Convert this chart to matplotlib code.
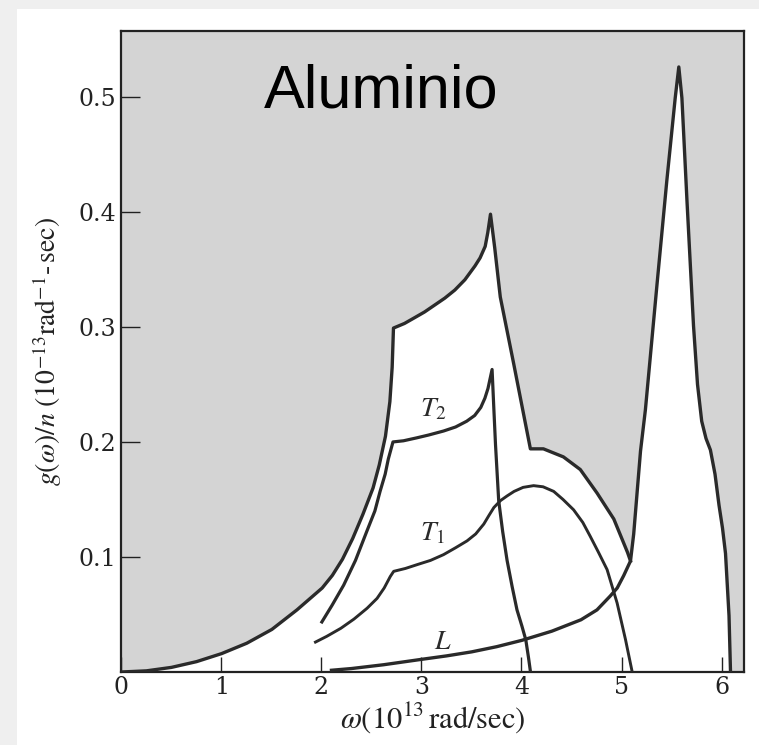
import numpy as np
import matplotlib
matplotlib.use("Agg")
import matplotlib.pyplot as plt
from matplotlib.patches import Rectangle

plt.rcParams['mathtext.fontset'] = 'stix'

# ---- data ----
omega_total = [0.0, 0.25, 0.5, 0.751, 1.002, 1.253, 1.504, 1.755, 2.007, 2.109, 2.21,
               2.312, 2.414, 2.516, 2.578, 2.64, 2.684, 2.707, 2.72, 2.83, 2.931, 3.031,
               3.132, 3.233, 3.333, 3.434, 3.535, 3.586, 3.637, 3.663, 3.69, 3.732,
               3.788, 3.922, 4.089, 4.219, 4.419, 4.588, 4.756, 4.923, 5.06, 5.09]
g_total = [0.0, 0.001, 0.004, 0.009, 0.016, 0.025, 0.037, 0.054, 0.073, 0.084, 0.098,
           0.116, 0.137, 0.160, 0.180, 0.205, 0.235, 0.265, 0.299, 0.303, 0.308, 0.313,
           0.319, 0.325, 0.332, 0.341, 0.353, 0.360, 0.370, 0.382, 0.398, 0.369,
           0.326, 0.268, 0.194, 0.194, 0.187, 0.176, 0.1555, 0.133, 0.104, 0.0965]

omega_T2 = [2.004, 2.106, 2.222, 2.34, 2.452, 2.534, 2.586, 2.637, 2.668, 2.715, 2.82,
            2.95, 3.071, 3.221, 3.341, 3.452, 3.532, 3.593, 3.634, 3.665, 3.706, 3.723,
            3.74, 3.772, 3.812, 3.856, 3.907, 3.955, 4.004, 4.043, 4.071, 4.09]
g_T2 = [0.0435, 0.058, 0.0755, 0.097, 0.122, 0.140, 0.157, 0.172, 0.185, 0.200, 0.201,
        0.2035, 0.206, 0.2095, 0.213, 0.218, 0.223, 0.230, 0.238, 0.2465, 0.263, 0.230,
        0.198, 0.149, 0.122, 0.097, 0.074, 0.054, 0.040, 0.028, 0.012, 0.0]

omega_T1 = [1.94, 2.053, 2.194, 2.325, 2.456, 2.556, 2.627, 2.688, 2.722, 2.839, 2.959,
            3.09, 3.22, 3.341, 3.456, 3.542, 3.623, 3.674, 3.724, 3.79, 3.855, 3.926,
            4.016, 4.121, 4.216, 4.322, 4.415, 4.521, 4.613, 4.687, 4.77, 4.856, 4.956,
            5.04, 5.107]
g_T1 = [0.026, 0.031, 0.038, 0.046, 0.0554, 0.064, 0.073, 0.083, 0.0875, 0.090, 0.0934,
        0.097, 0.102, 0.108, 0.114, 0.120, 0.1286, 0.136, 0.143, 0.149, 0.153, 0.157,
        0.1605, 0.162, 0.161, 0.157, 0.150, 0.141, 0.130, 0.118, 0.104, 0.089, 0.060,
        0.0282, 0.0]

omega_L = [2.1, 2.3, 2.621, 3.001, 3.251, 3.502, 3.752, 4.003, 4.304, 4.595, 4.755,
           4.887, 4.957, 5.022, 5.09, 5.122, 5.156, 5.19, 5.239, 5.354, 5.453, 5.537,
           5.573, 5.604, 5.655, 5.72, 5.76, 5.802, 5.845, 5.889, 5.935, 5.975, 6.01,
           6.04, 6.075, 6.09]
g_L = [0.0015, 0.003, 0.0063, 0.011, 0.014, 0.0175, 0.022, 0.0275, 0.0355, 0.0454,
       0.054, 0.066, 0.073, 0.0838, 0.0965, 0.120, 0.156, 0.192, 0.228, 0.336, 0.427,
       0.499, 0.526, 0.499, 0.409, 0.301, 0.250, 0.218, 0.203, 0.193, 0.172, 0.145,
       0.125, 0.103, 0.049, 0.0]

x_ticks = [0, 1, 2, 3, 4, 5, 6]
x_ticklabels = ["0", "1", "2", "3", "4", "5", "6"]
y_ticks = [0.1, 0.2, 0.3, 0.4, 0.5]
y_ticklabels = ["0.1", "0.2", "0.3", "0.4", "0.5"]

XMAX, YMAX = 6.22, 0.557
line_color = "#2a2a2a"
gray = "#d4d4d4"

fig = plt.figure(figsize=(7.59, 7.45), dpi=100)
fig.patch.set_facecolor("white")
fig.patches.append(Rectangle((0, 0), 17 / 759, 1, transform=fig.transFigure,
                             facecolor="#efefef", edgecolor="none", zorder=-5))
fig.patches.append(Rectangle((0, 1 - 9 / 745), 1, 9 / 745, transform=fig.transFigure,
                             facecolor="#efefef", edgecolor="none", zorder=-5))

ax = fig.add_axes([0.160, 0.098, 0.8196, 0.860])
ax.set_xlim(0, XMAX)
ax.set_ylim(0, YMAX)

# envelope (total density of states) used for the gray fill
oL = np.array(omega_L)
gL = np.array(g_L)
mask = oL > omega_total[-1]
env_x = np.concatenate([omega_total, oL[mask], [XMAX]])
env_y = np.concatenate([g_total, gL[mask], [0.0]])
ax.fill_between(env_x, env_y, YMAX, color=gray, lw=0, zorder=0)

ax.plot(omega_total, g_total, color=line_color, lw=2.4, solid_joinstyle="round", zorder=3)
ax.plot(omega_T2, g_T2, color=line_color, lw=2.3, solid_joinstyle="round", zorder=3)
ax.plot(omega_T1, g_T1, color=line_color, lw=2.1, solid_joinstyle="round", zorder=3)
ax.plot(omega_L, g_L, color=line_color, lw=2.4, solid_joinstyle="round", zorder=3)

ax.text(3.115, 0.229, r"$T_2$", fontsize=20, ha="center", va="center", color=line_color)
ax.text(3.115, 0.121, r"$T_1$", fontsize=20, ha="center", va="center", color=line_color)
ax.text(3.215, 0.027, r"$L$", fontsize=20, ha="center", va="center", color=line_color)

ax.text(2.6, 0.491, "Aluminio", fontsize=44, family="Liberation Sans",
        ha="center", va="baseline", color="black")

ax.set_xticks(x_ticks)
ax.set_xticklabels(x_ticklabels)
ax.set_yticks(y_ticks)
ax.set_yticklabels(y_ticklabels)
for lab in ax.get_xticklabels() + ax.get_yticklabels():
    lab.set_family("DejaVu Serif")
    lab.set_fontsize(17)
    lab.set_color("#222222")
ax.tick_params(axis="x", direction="in", length=11, width=1.0, pad=3, colors="#222222")
ax.tick_params(axis="y", direction="in", length=14, width=1.0, pad=4, colors="#222222")

for sp in ax.spines.values():
    sp.set_linewidth(1.6)
    sp.set_color("#222222")

ax.set_xlabel(r"$\omega(10^{13}\,\mathrm{rad/sec})$", fontsize=22, color="#222222",
              labelpad=1)
ax.set_ylabel(r"$g(\omega)/n\ (10^{-13}\mathrm{rad}^{-1}\text{-}\,\mathrm{sec})$",
              fontsize=20, color="#222222", labelpad=10)

fig.savefig("out.png", dpi=100)
